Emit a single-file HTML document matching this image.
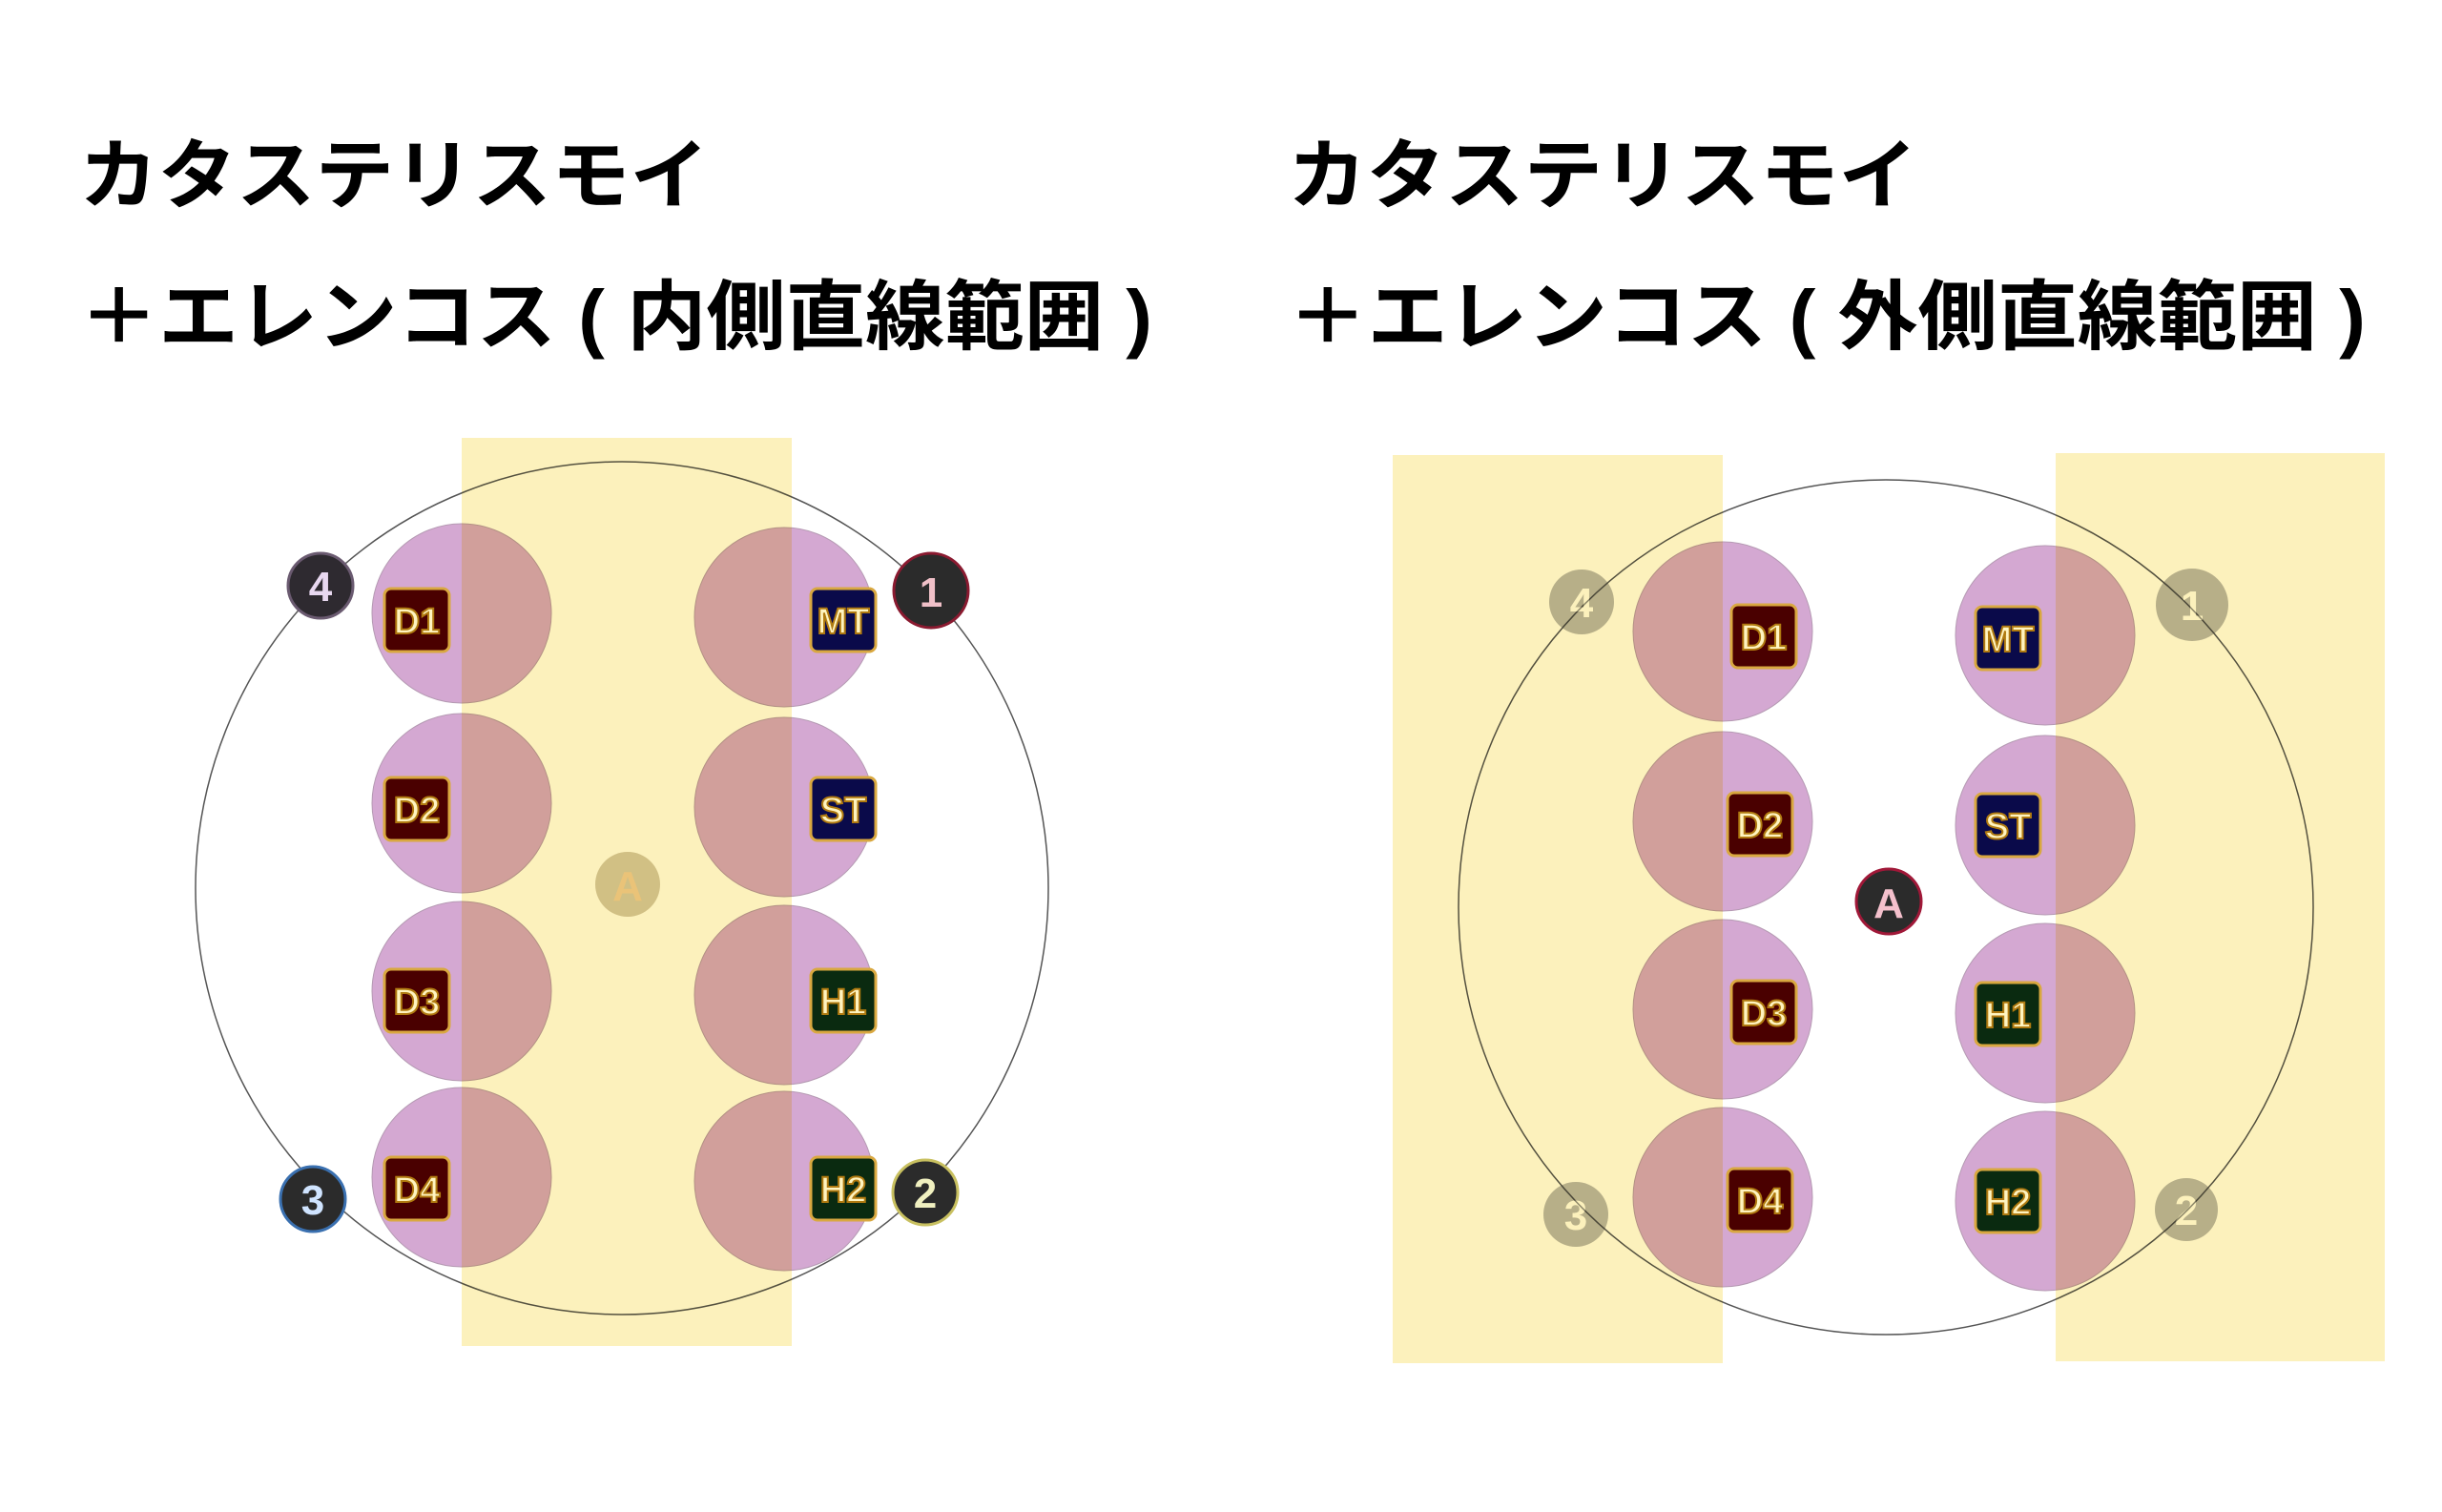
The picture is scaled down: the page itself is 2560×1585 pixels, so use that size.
<!DOCTYPE html>
<html><head><meta charset="utf-8"><style>
html,body{margin:0;padding:0;background:#fff;}
svg{display:block;}
text{font-family:"Liberation Sans","Noto Sans CJK JP",sans-serif;}
</style></head><body>
<svg width="2560" height="1585" viewBox="0 0 2560 1585" xmlns="http://www.w3.org/2000/svg">
<!-- Titles -->
<g font-weight="bold" font-size="80" fill="#000">
<text x="83" y="212" font-family="Noto Sans CJK JP, sans-serif" textLength="660" lengthAdjust="spacingAndGlyphs">カタステリスモイ</text>
<text x="83" y="360" font-family="Noto Sans CJK JP, sans-serif" textLength="1125" lengthAdjust="spacingAndGlyphs">＋エレンコス ( 内側直線範囲 )</text>
<text x="1350" y="212" font-family="Noto Sans CJK JP, sans-serif" textLength="660" lengthAdjust="spacingAndGlyphs">カタステリスモイ</text>
<text x="1350" y="360" font-family="Noto Sans CJK JP, sans-serif" textLength="1130" lengthAdjust="spacingAndGlyphs">＋エレンコス ( 外側直線範囲 )</text>
</g>

<!-- LEFT PANEL -->
<circle cx="652" cy="931" r="447" fill="none" stroke="#555" stroke-width="1.5"/>
<g fill="#d4a8d2" stroke="#b59ab3" stroke-width="1">
<circle cx="484" cy="643" r="94"/><circle cx="484" cy="842" r="94"/><circle cx="484" cy="1039" r="94"/><circle cx="484" cy="1234" r="94"/>
<circle cx="822" cy="647" r="94"/><circle cx="822" cy="846" r="94"/><circle cx="822" cy="1043" r="94"/><circle cx="822" cy="1238" r="94"/>
</g>
<g font-weight="bold" font-size="44" text-anchor="middle">
<circle cx="336" cy="614" r="34" fill="#2e2a30" stroke="#6a5a70" stroke-width="3"/><text x="336" y="630" fill="#e8d8f0">4</text>
<circle cx="976" cy="619" r="39" fill="#2b2b2b" stroke="#8a1a30" stroke-width="3"/><text x="976" y="636" fill="#f0c0c8">1</text>
<circle cx="328" cy="1257" r="34" fill="#2b2b2b" stroke="#3a70b0" stroke-width="3"/><text x="328" y="1273" fill="#d0e4ff">3</text>
<circle cx="970" cy="1250" r="34" fill="#2b2b2b" stroke="#c8c060" stroke-width="3"/><text x="970" y="1266" fill="#f0f0c0">2</text>
</g>
<circle cx="658" cy="927" r="34" fill="#b8a880" opacity="0.6"/>
<text x="658" y="944" font-size="44" font-weight="bold" text-anchor="middle" fill="#f4d0a0" opacity="0.8">A</text>
<rect x="484" y="459" width="346" height="952" fill="#fcf1bc" style="mix-blend-mode:multiply"/>
<g font-weight="bold" font-size="38" text-anchor="middle" stroke-width="2">
<g><rect x="403" y="617" width="68" height="66" rx="7" fill="#4a0000" stroke="#d9a840" stroke-width="3"/><text x="437" y="664" fill="#fff4c0" stroke="#b07a10">D1</text></g>
<g><rect x="403" y="815" width="68" height="66" rx="7" fill="#4a0000" stroke="#d9a840" stroke-width="3"/><text x="437" y="862" fill="#fff4c0" stroke="#b07a10">D2</text></g>
<g><rect x="403" y="1016" width="68" height="66" rx="7" fill="#4a0000" stroke="#d9a840" stroke-width="3"/><text x="437" y="1063" fill="#fff4c0" stroke="#b07a10">D3</text></g>
<g><rect x="403" y="1213" width="68" height="66" rx="7" fill="#4a0000" stroke="#d9a840" stroke-width="3"/><text x="437" y="1260" fill="#fff4c0" stroke="#b07a10">D4</text></g>
<g><rect x="850" y="617" width="68" height="66" rx="7" fill="#0a0a4a" stroke="#d9a840" stroke-width="3"/><text x="884" y="664" fill="#fff4c0" stroke="#b07a10">MT</text></g>
<g><rect x="850" y="815" width="68" height="66" rx="7" fill="#0a0a4a" stroke="#d9a840" stroke-width="3"/><text x="884" y="862" fill="#fff4c0" stroke="#b07a10">ST</text></g>
<g><rect x="850" y="1016" width="68" height="66" rx="7" fill="#0a2a10" stroke="#d9a840" stroke-width="3"/><text x="884" y="1063" fill="#fff4c0" stroke="#b07a10">H1</text></g>
<g><rect x="850" y="1213" width="68" height="66" rx="7" fill="#0a2a10" stroke="#d9a840" stroke-width="3"/><text x="884" y="1260" fill="#fff4c0" stroke="#b07a10">H2</text></g>
</g>

<!-- RIGHT PANEL -->
<g transform="translate(-9,-4)">
<circle cx="1986" cy="955" r="448" fill="none" stroke="#555" stroke-width="1.5"/>
<g fill="#d4a8d2" stroke="#b59ab3" stroke-width="1">
<circle cx="1815" cy="666" r="94"/><circle cx="1815" cy="865" r="94"/><circle cx="1815" cy="1062" r="94"/><circle cx="1815" cy="1259" r="94"/>
<circle cx="2153" cy="670" r="94"/><circle cx="2153" cy="869" r="94"/><circle cx="2153" cy="1066" r="94"/><circle cx="2153" cy="1263" r="94"/>
</g>
<g font-weight="bold" font-size="44" text-anchor="middle" opacity="0.35">
<circle cx="1667" cy="635" r="34" fill="#3a3a3a"/><text x="1667" y="651" fill="#fff">4</text>
<circle cx="2307" cy="638" r="38" fill="#3a3a3a"/><text x="2307" y="654" fill="#fff">1</text>
<circle cx="1661" cy="1277" r="34" fill="#3a3a3a"/><text x="1661" y="1293" fill="#fff">3</text>
<circle cx="2301" cy="1272" r="33" fill="#3a3a3a"/><text x="2301" y="1288" fill="#fff">2</text>
</g>
<rect x="1469" y="481" width="346" height="952" fill="#fcf1bc" style="mix-blend-mode:multiply"/>
<rect x="2164" y="479" width="345" height="952" fill="#fcf1bc" style="mix-blend-mode:multiply"/>
<circle cx="1989" cy="949" r="34" fill="#2b2b2b" stroke="#a01838" stroke-width="3"/>
<text x="1989" y="966" font-size="44" font-weight="bold" text-anchor="middle" fill="#f4c0cc">A</text>
<g font-weight="bold" font-size="38" text-anchor="middle" stroke-width="2">
<g><rect x="1824" y="638" width="68" height="66" rx="7" fill="#4a0000" stroke="#d9a840" stroke-width="3"/><text x="1858" y="685" fill="#fff4c0" stroke="#b07a10">D1</text></g>
<g><rect x="1820" y="835" width="68" height="66" rx="7" fill="#4a0000" stroke="#d9a840" stroke-width="3"/><text x="1854" y="882" fill="#fff4c0" stroke="#b07a10">D2</text></g>
<g><rect x="1824" y="1032" width="68" height="66" rx="7" fill="#4a0000" stroke="#d9a840" stroke-width="3"/><text x="1858" y="1079" fill="#fff4c0" stroke="#b07a10">D3</text></g>
<g><rect x="1820" y="1229" width="68" height="66" rx="7" fill="#4a0000" stroke="#d9a840" stroke-width="3"/><text x="1854" y="1276" fill="#fff4c0" stroke="#b07a10">D4</text></g>
<g><rect x="2080" y="640" width="68" height="66" rx="7" fill="#0a0a4a" stroke="#d9a840" stroke-width="3"/><text x="2114" y="687" fill="#fff4c0" stroke="#b07a10">MT</text></g>
<g><rect x="2080" y="836" width="68" height="66" rx="7" fill="#0a0a4a" stroke="#d9a840" stroke-width="3"/><text x="2114" y="883" fill="#fff4c0" stroke="#b07a10">ST</text></g>
<g><rect x="2080" y="1034" width="68" height="66" rx="7" fill="#0a2a10" stroke="#d9a840" stroke-width="3"/><text x="2114" y="1081" fill="#fff4c0" stroke="#b07a10">H1</text></g>
<g><rect x="2080" y="1230" width="68" height="66" rx="7" fill="#0a2a10" stroke="#d9a840" stroke-width="3"/><text x="2114" y="1277" fill="#fff4c0" stroke="#b07a10">H2</text></g>
</g>
</g>
</svg>
</body></html>
